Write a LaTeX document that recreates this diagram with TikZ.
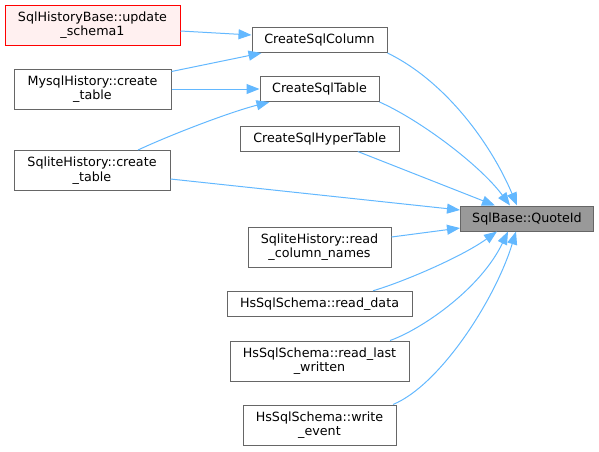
\documentclass[tikz,border=0pt]{standalone}
\usepackage{fontspec}
\setmainfont{DejaVu Sans}
\usepackage{xcolor}
\usepackage{tikz}
\usetikzlibrary{arrows.meta}
\definecolor{callblue}{HTML}{63B8FF}
\definecolor{boxgrey}{HTML}{666666}
\definecolor{focusgrey}{HTML}{999999}
\definecolor{rootpink}{HTML}{FFF0F0}

\begin{document}
\begin{tikzpicture}[
      x=1pt, y=-1pt,
      font=\fontsize{12.7pt}{14.5pt}\selectfont,
      every node/.style={align=center, inner sep=0pt},
      func/.style={draw=boxgrey, fill=white, line width=1pt,
                   minimum height=25pt},
      twoline/.style={func, minimum height=40pt},
      rootfn/.style={twoline, draw=red, fill=rootpink},
      focus/.style={func, fill=focusgrey},
      call/.style={draw=callblue, line width=1pt,
                   -{Triangle[length=13pt, width=10pt]}},
    ]
    \useasboundingbox (0,0) rectangle (599,451);

    % callers, left column
    \node[rootfn, minimum width=175pt] (upd) at (92.5,25) {SqlHistoryBase::update\\\_schema1};
    \node[twoline, minimum width=157pt] (mys) at (92.5,89) {MysqlHistory::create\\\_table};
    \node[twoline, minimum width=156pt] (sqc) at (92,170.5) {SqliteHistory::create\\\_table};

    % middle column
    \node[func, minimum width=135pt] (col) at (319.5,40) {CreateSqlColumn};
    \node[func, minimum width=119pt] (tab) at (319.5,89) {CreateSqlTable};
    \node[func, minimum width=159pt] (hyp) at (319.75,138.5) {CreateSqlHyperTable};
    \node[twoline, minimum width=143pt] (rcn) at (319.5,247) {SqliteHistory::read\\\_column\_names};
    \node[func, minimum width=185pt] (rdd) at (319.5,303.75) {HsSqlSchema::read\_data};
    \node[twoline, minimum width=179pt] (rlw) at (319.5,361) {HsSqlSchema::read\_last\\\_written};
    \node[twoline, minimum width=153pt] (wev) at (319.5,425) {HsSqlSchema::write\\\_event};

    % the called function
    \node[focus, minimum width=133pt] (quo) at (527,218.5) {SqlBase::QuoteId};

    \draw[call] ([yshift=-6pt]upd.east) -- ([yshift=5pt]col.west);
    \draw[call] ([yshift=-3pt]mys.north east) -- ([xshift=10pt]col.south west);
    \draw[call] (mys.east) -- (tab.west);
    \draw[call] ([xshift=46pt]sqc.north) .. controls (170,135) and (230,112) .. ([xshift=10pt]tab.south west);
    \draw[call] ([yshift=-8.5pt]sqc.east) -- ([yshift=8.5pt]quo.west);

    \draw[call] (col.south east) .. controls (447,82) and (492,146) .. ([xshift=-10pt]quo.north);
    \draw[call] (tab.south east) .. controls (420,120) and (480,165) .. ([xshift=-17pt]quo.north);
    \draw[call] ([xshift=38pt]hyp.south) -- ([xshift=-32pt]quo.north);
    \draw[call] ([yshift=10pt]rcn.east) -- ([yshift=-9.5pt]quo.west);
    \draw[call] ([xshift=53.5pt]rdd.north) .. controls (400,283) and (460,258) .. ([xshift=-30pt]quo.south);
    \draw[call] ([xshift=70.5pt]rlw.north) .. controls (420,330) and (480,290) .. ([xshift=-19pt]quo.south);
    \draw[call] ([xshift=73.5pt]wev.north) .. controls (440,385) and (495,300) .. ([xshift=-11pt]quo.south);
  \end{tikzpicture}
\end{document}
